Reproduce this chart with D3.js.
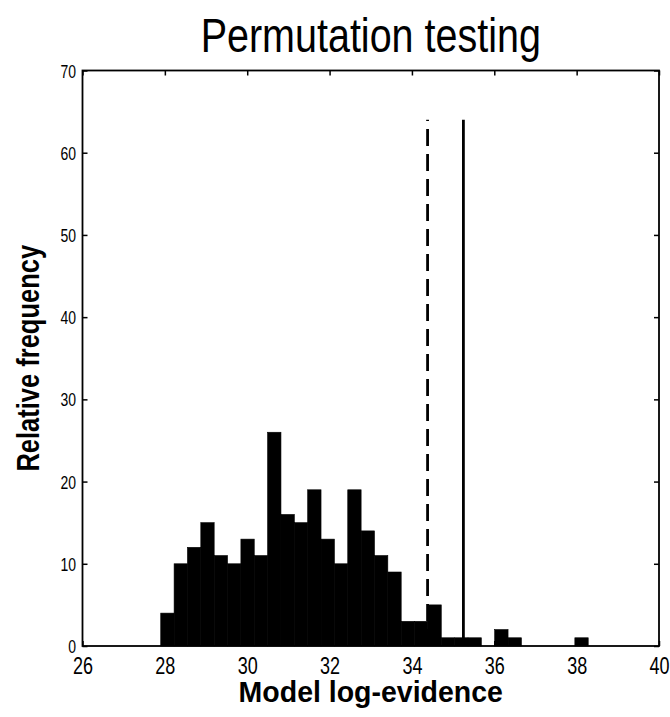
<!DOCTYPE html>
<html>
<head>
<meta charset="utf-8">
<script src="https://cdn.jsdelivr.net/npm/d3@7"></script>
<style>
  body { margin: 0; background: #fff; }
  svg { display: block; }
  text { font-family: "Liberation Sans", Arial, sans-serif; fill: #000; }
</style>
</head>
<body>
<svg id="chart" width="670" height="717"></svg>
<script>
// histogram of permuted model log-evidences
const binStart = 27.90;
const binWidth = 0.3244;
const counts = [4, 10, 12, 15, 11, 10, 13, 11, 26, 16, 15, 19, 13, 10, 19, 14,
                11, 9, 3, 3, 5, 1, 1, 1, 0, 2, 1, 0, 0, 0, 0, 1];
// reference lines: dashed = threshold, solid = observed
const refLines = [
  {value: 34.38, dashed: true},
  {value: 35.25, dashed: false}
];
const refLineTop = 64;
const xTicks = [26, 28, 30, 32, 34, 36, 38, 40];
const yTicks = [0, 10, 20, 30, 40, 50, 60, 70];

// text in the original looks stretched vertically
function stretch(k) { return "scale(1," + k + ")"; }

let svg = d3.select("#chart");
let margin = {top: 70.5, right: 11, bottom: 71, left: 82.5},
    width = +svg.attr("width") - margin.left - margin.right,
    height = +svg.attr("height") - margin.top - margin.bottom;

let x = d3.scaleLinear().domain([26, 40]).range([0, width]);
let y = d3.scaleLinear().domain([0, 70]).range([height, 0]);

let g = svg.append("g")
  .attr("transform", "translate(" + margin.left + "," + margin.top + ")");

let bins = counts.map((c, i) => ({
  x0: binStart + i * binWidth,
  x1: binStart + (i + 1) * binWidth,
  count: c
})).filter((d) => d.count > 0);

g.selectAll(".bar")
  .data(bins)
  .enter()
  .append("rect")
  .attr("class", "bar")
  .attr("x", (d) => x(d.x0))
  .attr("y", (d) => y(d.count))
  .attr("width", (d) => x(d.x1) - x(d.x0))
  .attr("height", (d) => y(0) - y(d.count))
  .attr("fill", "#000")
  .attr("stroke", "#000")
  .attr("stroke-width", 0.6);

g.selectAll(".ref")
  .data(refLines)
  .enter()
  .append("line")
  .attr("class", "ref")
  .attr("x1", (d) => x(d.value))
  .attr("x2", (d) => x(d.value))
  .attr("y1", y(0))
  .attr("y2", y(refLineTop))
  .attr("stroke", "#000")
  .attr("stroke-width", 2.8)
  .attr("stroke-dasharray", (d) => d.dashed ? "17,8" : null);

// axes, matlab style: ticks point inward, box all round
function styleAxis(sel) {
  sel.select(".domain").remove();
  sel.selectAll(".tick line").attr("stroke", "#000").attr("stroke-width", 1.5);
}

let xAxis = g.append("g")
  .attr("transform", "translate(0," + height + ")")
  .call(d3.axisBottom(x).tickValues(xTicks).tickSize(-5).tickFormat(d3.format("d")));
styleAxis(xAxis);
xAxis.selectAll(".tick text")
  .attr("font-size", 18)
  .attr("y", 0).attr("dy", null)
  .attr("transform", "translate(0,27.5) " + stretch(1.28));

g.append("g")
  .call(d3.axisTop(x).tickValues(xTicks).tickSize(-5).tickFormat(""))
  .call(styleAxis);

let yAxis = g.append("g")
  .call(d3.axisLeft(y).tickValues(yTicks).tickSize(-5).tickFormat(d3.format("d")));
styleAxis(yAxis);
yAxis.selectAll(".tick text")
  .attr("font-size", 14)
  .attr("x", 0).attr("dy", null)
  .attr("transform", "translate(-6.5,6.5) " + stretch(1.33));

g.append("g")
  .attr("transform", "translate(" + width + ",0)")
  .call(d3.axisRight(y).tickValues(yTicks).tickSize(-5).tickFormat(""))
  .call(styleAxis);

g.append("rect")
  .attr("width", width)
  .attr("height", height)
  .attr("fill", "none")
  .attr("stroke", "#000")
  .attr("stroke-width", 1.8);

// titles
svg.append("text")
  .attr("transform", "translate(" + (margin.left + width / 2) + ",52) " + stretch(1.2))
  .attr("text-anchor", "middle")
  .attr("font-size", 39.5)
  .text("Permutation testing");

svg.append("text")
  .attr("transform", "translate(" + (margin.left + width / 2) + ",702) " + stretch(1.02))
  .attr("text-anchor", "middle")
  .attr("font-size", 28.5)
  .attr("font-weight", "bold")
  .text("Model log-evidence");

svg.append("text")
  .attr("transform", "translate(39," + (margin.top + height / 2) + ") scale(1.25,1) rotate(-90)")
  .attr("text-anchor", "middle")
  .attr("font-size", 25.5)
  .attr("font-weight", "bold")
  .text("Relative frequency");
</script>
</body>
</html>
